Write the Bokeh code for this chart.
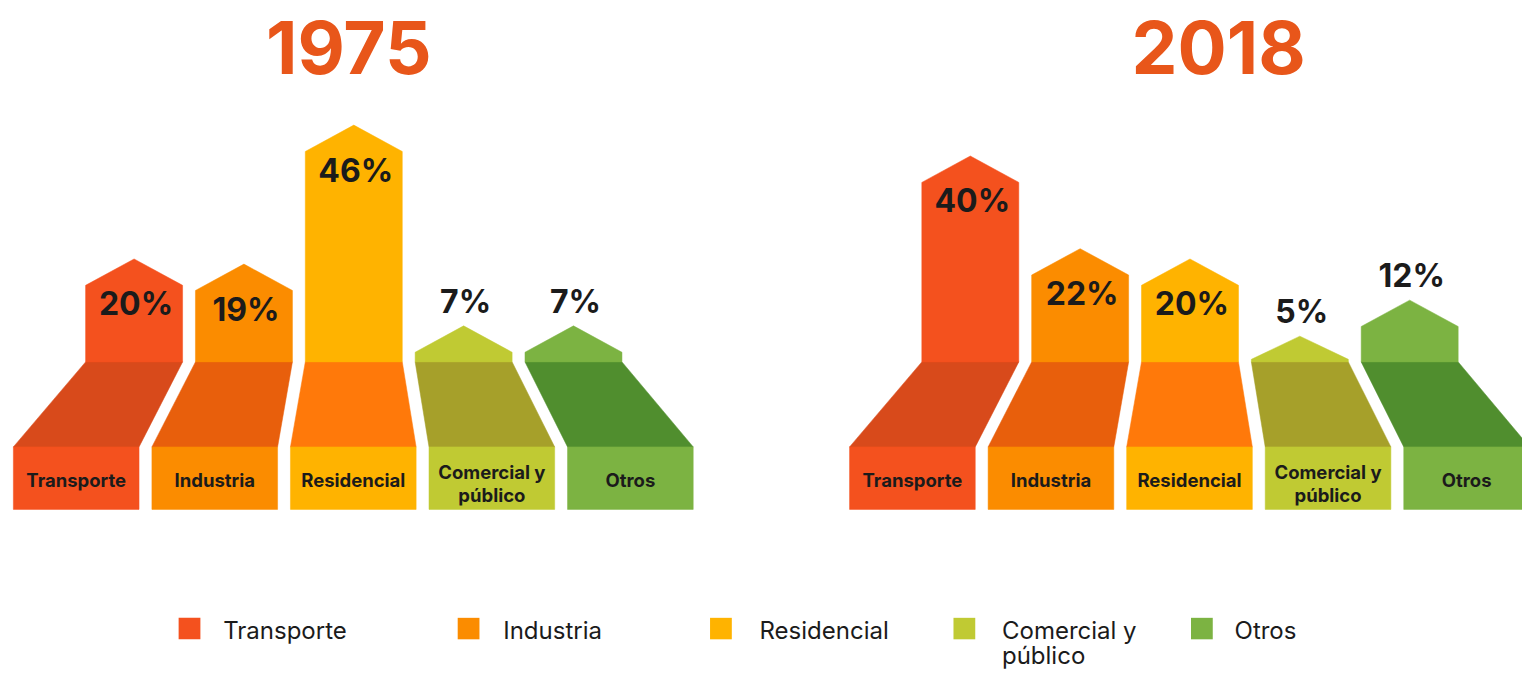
from bokeh.plotting import figure
from bokeh.models import Range1d, ColumnDataSource
from bokeh.core.properties import value
from bokeh.embed import file_html
from bokeh.resources import INLINE

# ---------------- data ----------------
categories = ["Transporte", "Industria", "Residencial", "Comercial y público", "Otros"]
years = ["1975", "2018"]
values_1975 = [20, 19, 46, 7, 7]
values_2018 = [40, 22, 20, 5, 12]
bar_colors = ["#F4511E", "#FB8C00", "#FFB300", "#C0CA33", "#7CB342"]
floor_colors = ["#D84A1B", "#E85F0C", "#FF790A", "#A6A02A", "#508E2E"]

# ---------------- layout ----------------
W, H = 1522, 673
REF_W, REF_H = 1538, 689
K = 5.27            # layout pixels per percentage point
BASE_PX = 370       # layout row of the bars' base


def yv(px):
    return (BASE_PX - px) / K


FONT = value("Inter")
TXT = "#1b1b1b"

p = figure(width=W, height=H, x_range=Range1d(0, REF_W),
           y_range=Range1d(yv(REF_H), yv(0)),
           output_backend="svg", toolbar_location=None,
           x_axis_type=None, y_axis_type=None, min_border=0)
p.grid.visible = False
p.outline_line_color = None
p.background_fill_color = "white"
p.border_fill_color = "white"

panel_left = [13, 858]
title_x = [352, 1231]
FRONT_PITCH, FRONT_W = 140, 127
BAR_OFF, BAR_PITCH, BAR_W = 73, 111, 98
ROOF = 27 / K
FLOOR_BOTTOM = yv(457)
FRONT_BOTTOM = yv(521)

for pi, vals in enumerate([values_1975, values_2018]):
    x0 = panel_left[pi]
    bxs, bys, fxs, fys = [], [], [], []
    fl, fr = [], []
    lx, ly, lt = [], [], []
    nx, ny, nt = [], [], []
    for i, v in enumerate(vals):
        L = x0 + BAR_OFF + BAR_PITCH * i
        R = L + BAR_W
        C = (L + R) / 2
        FL = x0 + FRONT_PITCH * i
        FR = FL + FRONT_W
        sh = max(v - ROOF, 0.5)
        bxs.append([L, L, C, R, R])
        bys.append([0, sh, v, sh, 0])
        fxs.append([L, R, FR, FL])
        fys.append([0, 0, FLOOR_BOTTOM, FLOOR_BOTTOM])
        fl.append(FL)
        fr.append(FR)
        lx.append(C + 2)
        lt.append(f"{v}%")
        if v >= 15:
            ly.append(v - 46 / K)
        else:
            ly.append(v + 25 / K)
        name = categories[i]
        if " y " in name:
            a, b = name.split(" y ")
            nx += [(FL + FR) / 2, (FL + FR) / 2]
            ny += [yv(483), yv(506)]
            nt += [a + " y", b]
        else:
            nx.append((FL + FR) / 2)
            ny.append(yv(491))
            nt.append(name)

    p.patches(xs="xs", ys="ys", color="c", line_width=0.5,
              source=ColumnDataSource(dict(xs=fxs, ys=fys, c=floor_colors)))
    p.patches(xs="xs", ys="ys", color="c", line_width=0.5,
              source=ColumnDataSource(dict(xs=bxs, ys=bys, c=bar_colors)))
    p.quad(left=fl, right=fr, top=FLOOR_BOTTOM, bottom=FRONT_BOTTOM,
           color=bar_colors, line_width=0.5)
    p.text(x=lx, y=ly, text=lt, text_align="center", text_baseline="middle",
           text_font=FONT, text_font_size="32px", text_font_style="bold",
           text_color=TXT)
    p.text(x=nx, y=ny, text=nt, text_align="center", text_baseline="middle",
           text_font=FONT, text_font_size="18.5px", text_font_style="bold",
           text_color=TXT)
    p.text(x=[title_x[pi]], y=[yv(48)], text=[years[pi]], text_align="center",
           text_baseline="middle", text_font=FONT, text_font_size="73px",
           text_font_style="bold", text_color="#E8561A")

# ---------------- legend ----------------
leg_sq_x = [180, 462, 717, 963, 1203]
leg_tx_x = [225, 508, 767, 1012, 1247]
SQ = 22
p.quad(left=leg_sq_x, right=[x + SQ for x in leg_sq_x], top=yv(632), bottom=yv(632 + SQ),
       color=bar_colors, line_width=0)
lgx, lgy, lgt = [], [], []
for i, name in enumerate(categories):
    if " y " in name:
        a, b = name.split(" y ")
        lgx += [leg_tx_x[i], leg_tx_x[i]]
        lgy += [yv(645), yv(671)]
        lgt += [a + " y", b]
    else:
        lgx.append(leg_tx_x[i])
        lgy.append(yv(645))
        lgt.append(name)
p.text(x=lgx, y=lgy, text=lgt, text_align="left", text_baseline="middle",
       text_font=FONT, text_font_size="24px", text_font_style="normal",
       text_color=TXT)

open("out.html", "w").write(file_html(p, INLINE))
